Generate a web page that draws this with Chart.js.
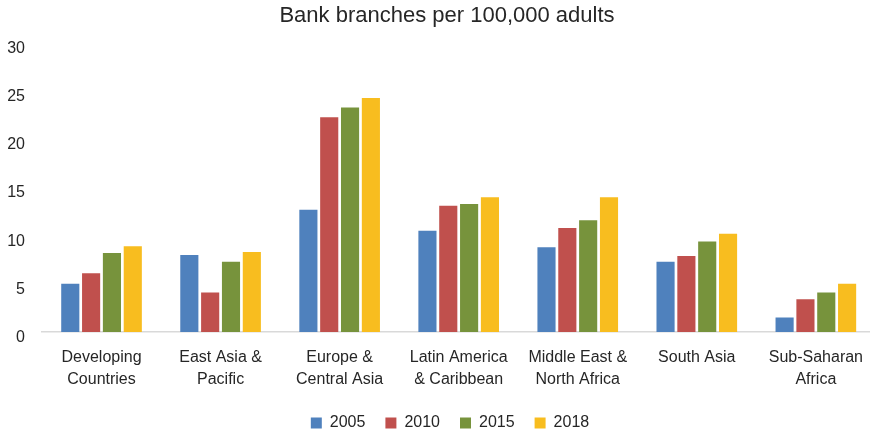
<!DOCTYPE html>
<html>
<head>
<meta charset="utf-8">
<title>Bank branches per 100,000 adults</title>
<script src="https://cdn.jsdelivr.net/npm/chart.js@4/dist/chart.umd.min.js"></script>
<style>
    html, body { margin: 0; padding: 0; background: #fff; overflow: hidden; }
    /* the plot runs a few pixels past the right edge, so the canvas is wider than the frame */
    #wrap { width: 870px; height: 433px; overflow: hidden; }
    #branches { display: block; }
</style>
</head>
<body>
<div id="wrap"><canvas id="branches" width="878" height="433"></canvas></div>
<script>
// Regions (multi-line tick labels)
const regions = [
    ['Developing', 'Countries'],
    ['East Asia &', 'Pacific'],
    ['Europe &', 'Central Asia'],
    ['Latin America', '& Caribbean'],
    ['Middle East &', 'North Africa'],
    ['South Asia'],
    ['Sub-Saharan', 'Africa']
];

const years = ['2005', '2010', '2015', '2018'];

// Branches per 100,000 adults, one list per year
const branches2005 = [5.0, 8.0, 12.7, 10.5, 8.8, 7.3, 1.5];
const branches2010 = [6.1, 4.1, 22.3, 13.1, 10.8, 7.9, 3.4];
const branches2015 = [8.2, 7.3, 23.3, 13.3, 11.6, 9.4, 4.1];
const branches2018 = [8.9, 8.3, 24.3, 14.0, 14.0, 10.2, 5.0];

const yTicks = [0, 5, 10, 15, 20, 25, 30];

const COLORS = ['#4F81BD', '#C0504D', '#77933C', '#F8BD1F'];
const TEXT = '#262626';
const FONT = "'Liberation Sans', Arial, sans-serif";
const PLOT_BOTTOM = 332;

const seriesValues = [branches2005, branches2010, branches2015, branches2018];

const datasets = years.map((year, i) => ({
    label: year,
    data: seriesValues[i],
    backgroundColor: COLORS[i],
    borderWidth: 0,
    categoryPercentage: 0.7,
    barPercentage: 0.87
}));

// title and legend sit a bit right of the canvas centre; legend also drops lower
const boxNudge = {
    id: 'boxNudge',
    afterLayout(chart) {
        const shift = (box, dx, dy) => {
            if (!box) return;
            box.left += dx; box.right += dx;
            box.top += dy; box.bottom += dy;
        };
        shift(chart.titleBlock, 8, 0);
        shift(chart.legend, 11, 8);
    }
};

new Chart(document.getElementById('branches'), {
    type: 'bar',
    data: { labels: regions, datasets },
    plugins: [boxNudge],
    options: {
        responsive: false,
        animation: false,
        layout: { padding: 0 },
        plugins: {
            title: {
                display: true,
                text: 'Bank branches per 100,000 adults',
                color: TEXT,
                font: { family: FONT, size: 22, weight: 'normal' },
                padding: { top: 3, bottom: 13.6 }
            },
            legend: {
                position: 'bottom',
                labels: {
                    color: TEXT,
                    font: { family: FONT, size: 16 },
                    boxWidth: 11,
                    boxHeight: 11,
                    padding: 20
                }
            },
            tooltip: { enabled: false }
        },
        scales: {
            x: {
                afterFit: scale => {
                    const lg = scale.chart.legend;
                    scale.height = scale.chart.height - PLOT_BOTTOM - (lg ? lg.height : 0);
                },
                grid: { display: false, drawTicks: false },
                border: { color: '#D9D9D9', width: 1.5 },
                ticks: {
                    color: TEXT,
                    font: { family: FONT, size: 16, lineHeight: 1.375 },
                    padding: 15,
                    maxRotation: 0,
                    autoSkip: false
                }
            },
            y: {
                min: 0,
                max: 30,
                afterBuildTicks: scale => {
                    scale.ticks = yTicks.map(v => ({ value: v }));
                },
                afterFit: scale => { scale.width = 42; },
                grid: { display: false, drawTicks: false },
                border: { display: false },
                ticks: {
                    color: TEXT,
                    font: { family: FONT, size: 16 },
                    padding: 17,
                    labelOffset: 5.5
                }
            }
        }
    }
});
</script>
</body>
</html>
